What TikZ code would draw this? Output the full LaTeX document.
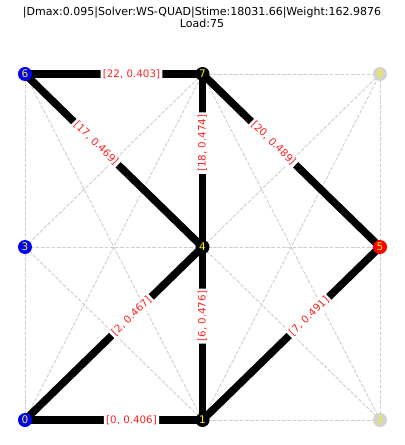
\documentclass[tikz,border=0pt]{standalone}
\usepackage{fontspec}
\setmainfont{DejaVu Sans}
\usetikzlibrary{backgrounds}
\definecolor{nodeblue}{RGB}{0,0,255}
\definecolor{nodered}{RGB}{255,0,0}
\definecolor{nodegray}{RGB}{211,211,211}
\definecolor{gridgray}{RGB}{205,205,205}
\definecolor{lblred}{RGB}{255,35,35}
\tikzset{
  vtx/.style={circle, inner sep=0pt, minimum size=14bp, text=yellow,
    font=\fontsize{10.5bp}{12bp}\selectfont},
  faintln/.style={gridgray, line width=0.9bp, dash pattern=on 3.7bp off 1.6bp},
  pathln/.style={black, line width=7.5bp},
  wlabel/.style={pos=0.6, sloped, fill=white, rounded corners=2bp, inner sep=2.2bp,
    text=lblred, font=\fontsize{10.3bp}{12bp}\selectfont},
}

\begin{document}
\begin{tikzpicture}[x=1bp, y=-1bp]
  \useasboundingbox (0,0) rectangle (404,445);
  % title
  \node[align=center, font=\fontsize{11bp}{11.5bp}\selectfont] (title) at (202,17.5)
    {|Dmax:0.095|Solver:WS-QUAD|Stime:18031.66|Weight:162.9876\\Load:75};
  % grid of stations
  \foreach \n/\x/\y/\c in {0/25/420/nodeblue, 1/202.5/420/black, 2/380/420/nodegray,
      3/25/247/nodeblue, 4/202.5/247/black, 5/380/247/nodered,
      6/25/74/nodeblue, 7/202.5/74/black, 8/380/74/nodegray} {
    \node[vtx, fill=\c] (\n) at (\x,\y) {\n};
  }
  \begin{scope}[on background layer]
    % all candidate links
    \foreach \a/\b in {0/1, 1/2, 3/4, 4/5, 6/7, 7/8, 0/3, 3/6, 1/4, 4/7, 2/5, 5/8,
        0/4, 1/3, 1/5, 2/4, 3/7, 4/6, 4/8, 5/7, 0/7, 1/6, 1/8, 2/7} {
      \draw[faintln] (\a.center) -- (\b.center);
    }
    % chosen links
    \draw[pathln] (0.center) -- node[wlabel] {[0, 0.406]} (1.center);
    \draw[pathln] (0.center) -- node[wlabel] {[2, 0.467]} (4.center);
    \draw[pathln] (1.center) -- node[wlabel] {[6, 0.476]} (4.center);
    \draw[pathln] (1.center) -- node[wlabel] {[7, 0.491]} (5.center);
    \draw[pathln] (4.center) -- node[wlabel] {[17, 0.469]} (6.center);
    \draw[pathln] (4.center) -- node[wlabel] {[18, 0.474]} (7.center);
    \draw[pathln] (5.center) -- node[wlabel] {[20, 0.489]} (7.center);
    \draw[pathln] (6.center) -- node[wlabel] {[22, 0.403]} (7.center);
  \end{scope}
\end{tikzpicture}
\end{document}
